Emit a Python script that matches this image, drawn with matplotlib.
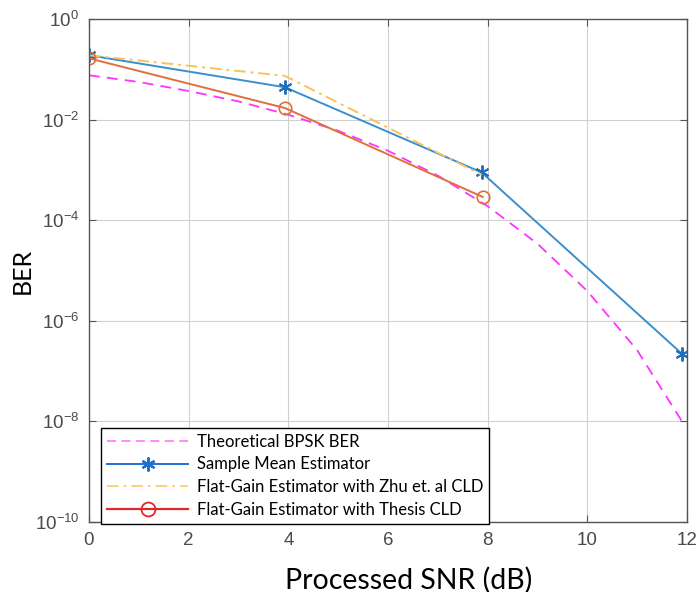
import numpy as np
import matplotlib.pyplot as plt
from matplotlib.lines import Line2D

plt.rcParams['mathtext.fontset'] = 'custom'
plt.rcParams['mathtext.rm'] = 'Liberation Sans'
plt.rcParams['mathtext.it'] = 'Liberation Sans:italic'
plt.rcParams['mathtext.bf'] = 'Liberation Sans:bold'

# Valores
snr_teorico = [0, 1, 2, 3, 4, 5, 6, 7, 8, 9, 10, 11, 11.9]
ber_teorico = [7.6e-2, 5.6e-2, 3.7e-2, 2.3e-2, 1.25e-2, 6.0e-3, 2.4e-3, 7.7e-4,
               1.9e-4, 3.4e-5, 3.9e-6, 2.6e-7, 1.0e-8]

snr_media = [0, 3.93, 7.88, 11.9]
ber_media = [0.19, 0.044, 8.9e-4, 2.2e-7]

snr_zhu = [0, 3.93, 7.88]
ber_zhu = [0.19, 0.074, 8.0e-4]

snr_tese = [0, 3.93, 7.9]
ber_tese = [0.165, 0.017, 2.9e-4]

nomes = ['Theoretical BPSK BER', 'Sample Mean Estimator',
         'Flat-Gain Estimator with Zhu et. al CLD', 'Flat-Gain Estimator with Thesis CLD']

asterisco = (6, 2, 0)

fig = plt.figure(figsize=(6.99, 5.92), dpi=100)
ax = fig.add_axes([89 / 699, 70 / 592, 598 / 699, 503 / 592])

ax.plot(snr_teorico, ber_teorico, color='#FF33FF', linestyle=(0, (6, 4)), linewidth=1.3)
ax.plot(snr_media, ber_media, color='#3A8FCC', linewidth=1.4, marker=asterisco,
        markersize=10, markeredgewidth=1.4, markeredgecolor='#1F6FBF')
ax.plot(snr_zhu, ber_zhu, color='#F5C45A', linestyle=(0, (6, 2.5, 1.5, 2.5)), linewidth=1.4)
ax.plot(snr_tese, ber_tese, color='#E0703A', linewidth=1.4, marker='o', markersize=9,
        markerfacecolor='none', markeredgecolor='#E0703A', markeredgewidth=1.2)

ax.set_yscale('log')
ax.set_xlim(0, 12)
ax.set_ylim(1e-10, 1)
ax.set_xticks(np.arange(0, 13, 2))
ax.set_yticks([1e0, 1e-2, 1e-4, 1e-6, 1e-8, 1e-10])
ax.set_yticklabels([r'$10^{0}$', r'$10^{-2}$', r'$10^{-4}$', r'$10^{-6}$', r'$10^{-8}$', r'$10^{-10}$'])
ax.yaxis.set_minor_locator(plt.NullLocator())
for rotulo in ax.get_xticklabels():
    rotulo.set_family('Liberation Sans')
ax.grid(True, color='#d0d0d0', linewidth=0.8)
ax.tick_params(direction='in', top=True, right=True, length=5, labelsize=13.5,
               colors='#555555', labelcolor='#4a4a4a', pad=7)
for lado in ax.spines.values():
    lado.set_color('#555555')
    lado.set_linewidth(1.0)

ax.set_xlabel('Processed SNR (dB)', fontsize=20.5, family='Lato', va='center')
ax.xaxis.set_label_coords(0.535, -0.115)
ax.set_ylabel('BER', fontsize=18, family='Lato', va='center')
ax.yaxis.set_label_coords(-0.112, 0.5)

# legenda com cores do original
alcas = [
    Line2D([], [], color='#FF80FF', linestyle=(0, (5, 3)), linewidth=1.3),
    Line2D([], [], color='#1F6FD0', linewidth=1.4, marker=asterisco, markersize=10,
           markeredgewidth=1.6),
    Line2D([], [], color='#FFCF80', linestyle=(0, (6, 2.5, 1.5, 2.5)), linewidth=1.4),
    Line2D([], [], color='#E02828', linewidth=1.6, marker='o', markersize=10,
           markerfacecolor='none', markeredgewidth=1.3),
]
leg = ax.legend(alcas, nomes, loc='lower left', bbox_to_anchor=(0.02, -0.003),
                borderaxespad=0, fancybox=False, framealpha=1, edgecolor='black',
                handlelength=4.9, borderpad=0.35, labelspacing=0.4, handletextpad=0.5,
                prop={'family': 'Lato', 'size': 12})
leg.get_frame().set_linewidth(1.0)

fig.savefig('out.png', dpi=100)
